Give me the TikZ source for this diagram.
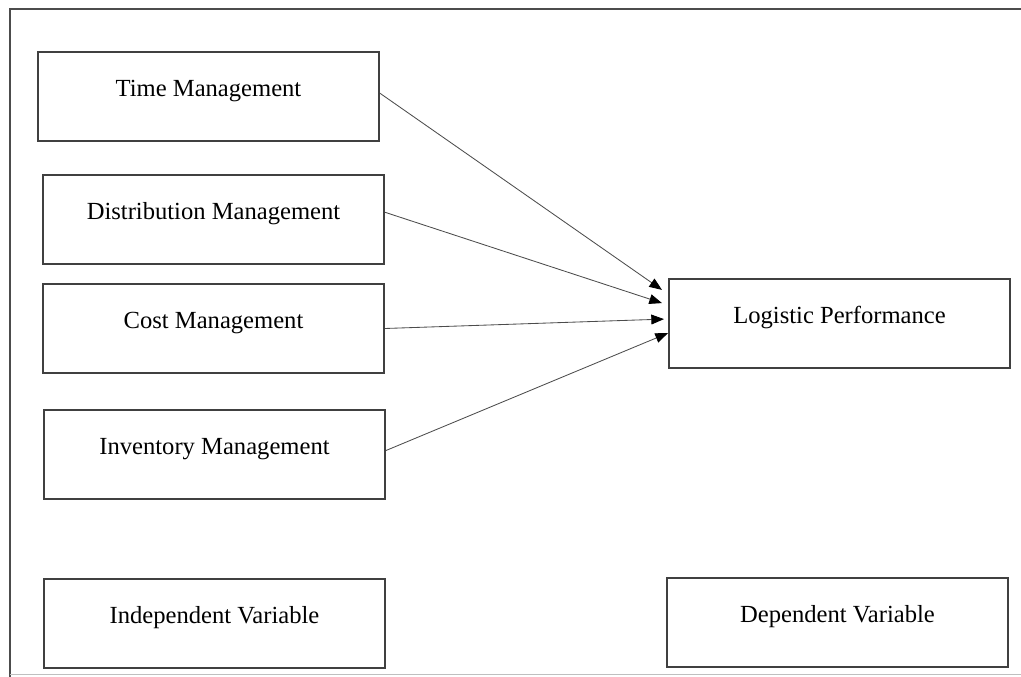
\documentclass[tikz,border=0pt]{standalone}
\usepackage{fontspec}
\setmainfont{Liberation Serif}
\usepackage{tikz}
\usetikzlibrary{arrows.meta,positioning,calc}

\begin{document}
\begin{tikzpicture}[font=\fontsize{17.5}{21}\selectfont,
    varbox/.style={draw=black!75, line width=1.3pt, minimum width=8.53cm, minimum height=2.23cm, text height=2ex, text depth=2ex, inner sep=0pt},
    link/.style={draw=black!70, line width=0.6pt, -{Triangle[length=9pt,width=7pt,color=black]}}]
    \useasboundingbox (0,0) rectangle (25.525,16.925);

    % Frame
    \draw[black!70, line width=1pt] (0.25,0) -- (0.25,16.7) -- (25.525,16.7);
    \draw[black!25, line width=0.6pt] (0.25,0.06) -- (25.525,0.06);

    % Independent variables
    \node[varbox] (tm) at (5.2125,14.5125) {Time Management};
    \node[varbox] (dm) at (5.3375,11.4375) {Distribution Management};
    \node[varbox] (cm) at (5.3375,8.7125) {Cost Management};
    \node[varbox] (im) at (5.3625,5.5625) {Inventory Management};

    % Dependent variable
    \node[varbox] (lp) at (20.9875,8.8375) {Logistic Performance};

    % Legend
    \node[varbox] (iv) at (5.3625,1.3375) {Independent Variable};
    \node[varbox] (dv) at (20.9375,1.3625) {Dependent Variable};

    % Arrows
    \draw[link] ($(tm.east)+(0,0.08)$) -- ($(lp.west)+(-0.15,0.84)$);
    \draw[link] ($(dm.east)+(0,0.18)$) -- ($(lp.west)+(-0.15,0.51)$);
    \draw[link] (cm.east) -- ($(lp.west)+(-0.1,0.11)$);
    \draw[link] ($(im.east)+(0,0.1)$) -- ($(lp.west)+(0,-0.24)$);
\end{tikzpicture}
\end{document}
